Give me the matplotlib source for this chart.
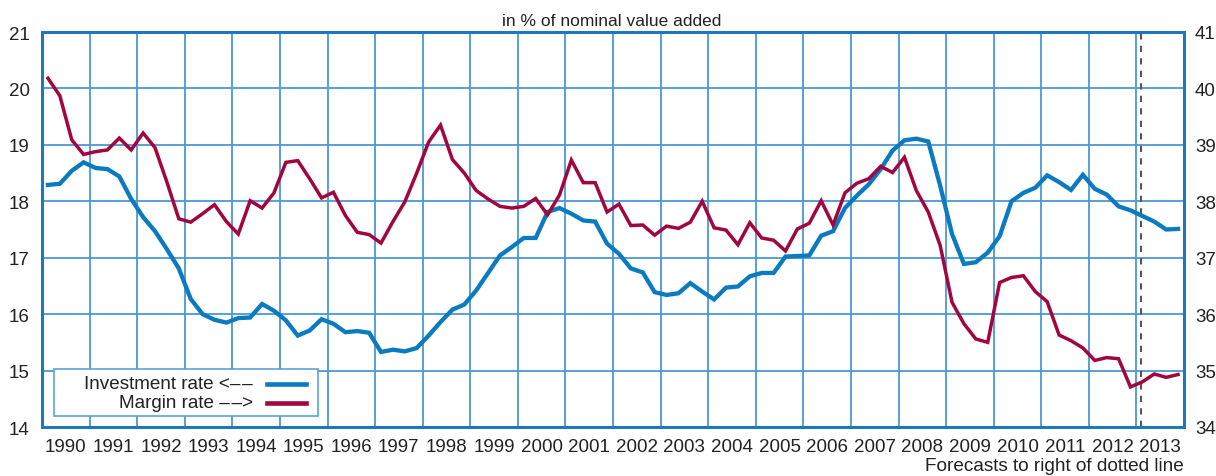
import matplotlib
matplotlib.use("Agg")
import matplotlib.pyplot as plt
import numpy as np
from matplotlib.patches import Rectangle
from matplotlib.lines import Line2D

plt.rcParams['font.family'] = ['Liberation Sans', 'DejaVu Sans']

years = list(range(1990, 2014))
year_labels = [str(y) for y in years]

# quarterly values 1990Q1 .. 2013Q4
investment_rate = [
    18.29, 18.31, 18.54, 18.69, 18.59, 18.57, 18.44, 18.04,
    17.72, 17.47, 17.15, 16.81, 16.27, 16.00, 15.90, 15.85,
    15.93, 15.94, 16.18, 16.06, 15.89, 15.62, 15.71, 15.91,
    15.83, 15.68, 15.70, 15.67, 15.33, 15.37, 15.34, 15.40,
    15.62, 15.86, 16.08, 16.17, 16.42, 16.73, 17.04, 17.19,
    17.35, 17.35, 17.81, 17.88, 17.78, 17.66, 17.64, 17.25,
    17.07, 16.81, 16.74, 16.39, 16.34, 16.37, 16.55, 16.40,
    16.26, 16.47, 16.49, 16.67, 16.73, 16.73, 17.02, 17.03,
    17.04, 17.39, 17.47, 17.88, 18.10, 18.30, 18.57, 18.90,
    19.08, 19.11, 19.06, 18.28, 17.42, 16.89, 16.92, 17.09,
    17.38, 18.00, 18.15, 18.24, 18.46, 18.34, 18.20, 18.47,
    18.22, 18.12, 17.91, 17.84, 17.74, 17.64, 17.50, 17.51,
]
margin_rate = [
    40.18, 39.87, 39.09, 38.83, 38.88, 38.91, 39.12, 38.91,
    39.21, 38.95, 38.34, 37.69, 37.63, 37.78, 37.94, 37.64,
    37.42, 38.01, 37.88, 38.15, 38.69, 38.72, 38.40, 38.06,
    38.16, 37.75, 37.45, 37.41, 37.26, 37.64, 37.99, 38.50,
    39.05, 39.35, 38.74, 38.50, 38.19, 38.04, 37.91, 37.88,
    37.91, 38.05, 37.76, 38.11, 38.73, 38.33, 38.33, 37.81,
    37.95, 37.57, 37.58, 37.40, 37.56, 37.52, 37.63, 38.00,
    37.53, 37.49, 37.23, 37.62, 37.35, 37.31, 37.12, 37.51,
    37.61, 38.01, 37.58, 38.15, 38.32, 38.40, 38.62, 38.51,
    38.78, 38.19, 37.81, 37.22, 36.21, 35.83, 35.56, 35.50,
    36.56, 36.65, 36.68, 36.40, 36.22, 35.63, 35.53, 35.40,
    35.18, 35.23, 35.21, 34.71, 34.80, 34.94, 34.88, 34.93,
]
forecast_start = 2013.1

series_labels = ["Investment rate <\u2013\u200a\u2013", "Margin rate \u2013\u200a\u2013>"]
subtitle = "in % of nominal value added"
footnote = "Forecasts to right of dotted line"

BLUE = '#0a7bc1'
RED = '#a1063f'
GRID = '#4a99d6'
FRAME = '#1a78bd'
TXT = '#222222'

t = 1990 + (np.arange(len(investment_rate)) + 0.5) / 4.0

fig = plt.figure(figsize=(12.16, 4.77), dpi=100)
ax = fig.add_axes([42/1216, 1-428/477, (1184-42)/1216, (428-33)/477])
ax2 = ax.twinx()

ax.set_xlim(1990, 2014)
ax.set_ylim(14, 21)
ax2.set_ylim(34, 41)

ax.set_xticks(np.arange(1990, 2015))
ax.set_xticklabels([])
ax.set_xticks(np.array(years) + 0.5, minor=True)
ax.set_xticklabels(year_labels, minor=True)
ax.tick_params(axis='x', which='both', length=0, labelsize=13.5, pad=8, colors=TXT)
ax.set_yticks(np.arange(14, 22))
ax.tick_params(axis='y', length=0, labelsize=13.5, pad=9, colors=TXT)
ax2.set_yticks(np.arange(34, 42))
ax2.tick_params(axis='y', length=0, labelsize=13.5, pad=8, colors=TXT)

ax.grid(True, which='major', color=GRID, linewidth=1.3)
ax.set_axisbelow(True)
for a in (ax, ax2):
    for s in a.spines.values():
        s.set_color(FRAME)
        s.set_linewidth(2.0)

ax.axvline(forecast_start, color='#555555', linestyle=(0, (3, 3)), linewidth=1.5, zorder=3)

ax.plot(t, investment_rate, color=BLUE, linewidth=3.1, solid_joinstyle='miter', zorder=4)
ax2.plot(t, margin_rate, color=RED, linewidth=2.5, solid_joinstyle='miter', zorder=4)

# legend drawn manually (right-aligned text, line samples at right)
fx = lambda px: px / 1216
fy = lambda py: 1 - py / 477
fig.patches.append(Rectangle((fx(54), fy(417)), fx(318) - fx(54), fy(370) - fy(417),
                             transform=fig.transFigure, facecolor='white',
                             edgecolor='#5aa3da', linewidth=1.2, zorder=10))
rows = [(fy(385), BLUE), (fy(404), RED)]
for (yy, col), lab in zip(rows, series_labels):
    fig.text(fx(253), yy, lab, ha='right', va='center', fontsize=13.6, color=TXT, zorder=11)
    fig.lines.append(Line2D([fx(267), fx(306)], [yy, yy], transform=fig.transFigure,
                            color=col, linewidth=3.3, zorder=11))

fig.text(fx(612), fy(21), subtitle, ha='center', va='center', fontsize=12.5, color=TXT)
fig.text(fx(1184), fy(467), footnote, ha='right', va='center', fontsize=13.7, color=TXT)

fig.savefig('out.png', dpi=100, facecolor='white')
